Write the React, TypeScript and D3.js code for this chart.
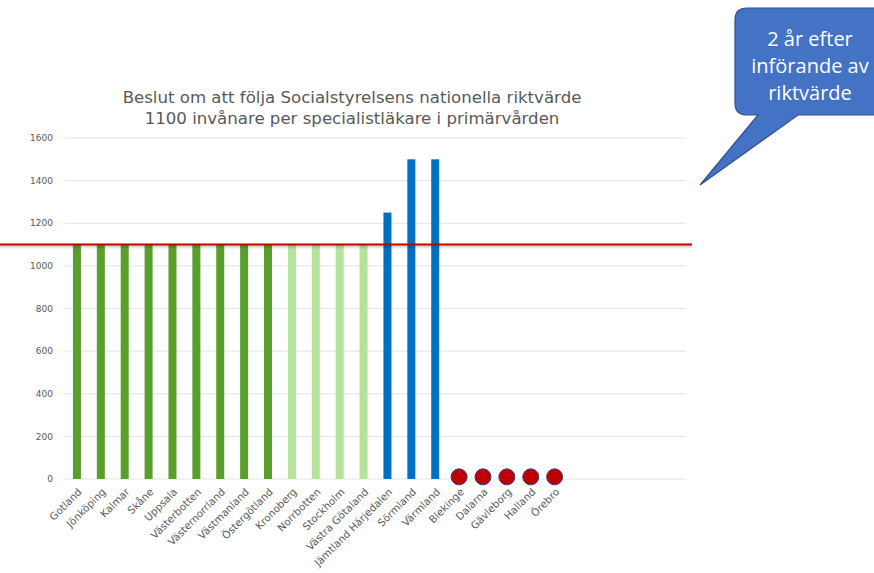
import React from "react";
import * as d3 from "d3";

const categories = [
  "Gotland", "Jönköping", "Kalmar", "Skåne", "Uppsala", "Västerbotten", "Västernorrland",
  "Västmanland", "Östergötland", "Kronoberg", "Norrbotten", "Stockholm", "Västra Götaland",
  "Jämtland Härjedalen", "Sörmland", "Värmland", "Blekinge", "Dalarna", "Gävleborg", "Halland", "Örebro",
];
const emptySlots = 5;
const values = [
  1100, 1100, 1100, 1100, 1100, 1100, 1100, 1100, 1100, 1100, 1100, 1100, 1100,
  1250, 1500, 1500, 10, 10, 10, 10, 10,
];
// group: 0 dark green, 1 light green, 2 blue, 3 red dot
const groups = [0, 0, 0, 0, 0, 0, 0, 0, 0, 1, 1, 1, 1, 2, 2, 2, 3, 3, 3, 3, 3];
const groupColors = ["#5a9f2c", "#b6e39c", "#0070c0", "#c00000"];
const yTicks = [0, 200, 400, 600, 800, 1000, 1200, 1400, 1600];
const targetValue = 1100;
const titleLines = [
  "Beslut om att följa Socialstyrelsens nationella riktvärde",
  "1100 invånare per specialistläkare i primärvården",
];
const calloutLines = ["2 år efter", "införande av", "riktvärde"];

export default function App() {
  const W = 874, H = 573;
  const left = 65, right = 686, top = 138, bottom = 479;
  const domain = d3.range(categories.length + emptySlots).map(String);
  const x = d3.scaleBand().domain(domain).range([left, right]).padding(0);
  const y = d3.scaleLinear().domain([0, 1600]).range([bottom, top]);
  const bw = 8;
  const grey = "#595959";

  return (
    <svg width={W} height={H} style={{ position: "absolute", left: 0, top: 0, background: "#fff" }}>
      <defs>
        <filter id="sh" filterUnits="userSpaceOnUse" x="-10" y="230" width="720" height="30">
          <feDropShadow dx="0" dy="1.5" stdDeviation="1" floodColor="#000" floodOpacity="0.3" />
        </filter>
      </defs>
      {/* title */}
      {titleLines.map((t, i) => (
        <text key={i} x={352} y={103 + i * 21} textAnchor="middle" fontFamily="DejaVu Sans" fontSize={16.6} fill={grey}>
          {t}
        </text>
      ))}
      {/* grid */}
      {yTicks.map((t) => (
        <g key={t}>
          <line x1={left} x2={right} y1={y(t)} y2={y(t)} stroke="#e3e3e3" strokeWidth={1} />
          <text x={53} y={y(t)} dy="0.35em" textAnchor="end" fontFamily="DejaVu Sans" fontSize={9} fill={grey}>
            {t}
          </text>
        </g>
      ))}
      {/* bars */}
      {categories.map((c, i) => {
        const cx = (x(String(i)) as number) + x.bandwidth() / 2;
        const g = groups[i];
        if (g === 3) {
          return (
            <circle key={c} cx={cx} cy={y(values[i])} r={8} fill={groupColors[3]} stroke="#2f3f8f" strokeWidth={1} />
          );
        }
        return (
          <rect key={c} x={cx - bw / 2} y={y(values[i])} width={bw} height={bottom - y(values[i])} fill={groupColors[g]} />
        );
      })}
      {/* category labels */}
      {categories.map((c, i) => {
        const cx = (x(String(i)) as number) + x.bandwidth() / 2;
        return (
          <text key={c} transform={`translate(${cx + 3},${bottom + 11}) rotate(-45)`} textAnchor="end" dy="0.35em"
            fontFamily="DejaVu Sans" fontSize={10.3} fill={grey}>
            {c}
          </text>
        );
      })}
      {/* target line */}
      <line x1={0} x2={692} y1={y(targetValue)} y2={y(targetValue)} stroke="#c00000" strokeWidth={2} filter="url(#sh)" />
      {/* callout */}
      <path
        d="M747,8 L874,8 L880,8 L880,115 L798,115 L700,185 L758,115 L747,115 Q735,115 735,103 L735,20 Q735,8 747,8 Z"
        fill="#4472c4" stroke="#2f528f" strokeWidth={1.2}
      />
      {calloutLines.map((t, i) => (
        <text key={i} x={810} y={46 + i * 27} textAnchor="middle" fontFamily="Open Sans" fontSize={20} fill="#fff">
          {t}
        </text>
      ))}
    </svg>
  );
}
